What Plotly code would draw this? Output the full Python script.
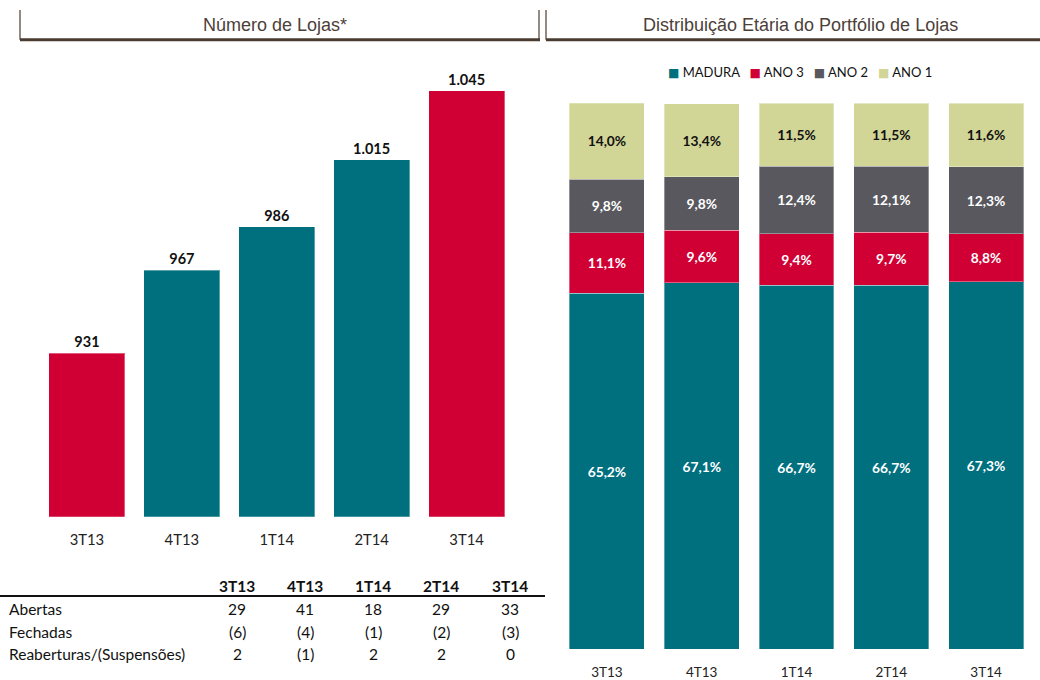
import plotly.graph_objects as go

# ---------------- data ----------------
quarters = ["3T13", "4T13", "1T14", "2T14", "3T14"]
store_count = [931, 967, 986, 1015, 1045]
store_colors = ["#D10034", "#00707F", "#00707F", "#00707F", "#D10034"]

madura = [65.2, 67.1, 66.7, 66.7, 67.3]
ano3 = [11.1, 9.6, 9.4, 9.7, 8.8]
ano2 = [9.8, 9.8, 12.4, 12.1, 12.3]
ano1 = [14.0, 13.4, 11.5, 11.5, 11.6]

table_rows = ["Abertas", "Fechadas", "Reaberturas/(Suspensões)"]
abertas = [29, 41, 18, 29, 33]
fechadas = [-6, -4, -1, -2, -3]
reaberturas = [2, -1, 2, 2, 0]

W, H = 1040, 680
TEAL, RED, GRAY, OLIVE = "#00707F", "#D10034", "#58585E", "#D1D596"
BROWN = "#4A3C31"
CAL = "Lato, 'Open Sans', sans-serif"
ARIAL = "'Liberation Sans', Arial, sans-serif"
NB = "\u00a0"


def px(x):
    return x / W


def py(y):
    return 1 - y / H


def fmt(v):
    return f"({abs(v)})" if v < 0 else f"{v}"


fig = go.Figure()

# left: number of stores
fig.add_trace(go.Bar(
    x=quarters, y=store_count,
    marker=dict(color=store_colors, line=dict(width=1, color="rgba(255,255,255,0.35)")),
    width=0.8, texttemplate="<b>%{y:,.0f}</b>", textposition="outside",
    textfont=dict(family=CAL, size=14.5, color="#111111"),
    cliponaxis=False, showlegend=False, xaxis="x", yaxis="y", hoverinfo="skip"))

# right: stacked distribution
series = [("MADURA", madura, TEAL, "white"), ("ANO 3", ano3, RED, "white"),
          ("ANO 2", ano2, GRAY, "white"), ("ANO 1", ano1, OLIVE, "#111111")]
for name, vals, col, tcol in series:
    fig.add_trace(go.Bar(
        x=quarters, y=vals, name=name, width=0.79, showlegend=False,
        marker=dict(color=col, line=dict(width=1, color="rgba(255,255,255,0.35)")),
        texttemplate="<b>%{y:.1f}%</b>", textposition="inside", insidetextanchor="middle",
        textangle=0, constraintext="none",
        textfont=dict(family=CAL, size=13.8, color=tcol),
        xaxis="x2", yaxis="y2", hoverinfo="skip"))

shapes = []
# header decorations
for x0, x1, right_tick in [(20, 540, True), (546, 1040, False)]:
    shapes.append(dict(type="line", xref="paper", yref="paper", x0=px(x0), x1=px(x1), y0=py(40), y1=py(40),
                       line=dict(color=BROWN, width=3)))
    shapes.append(dict(type="line", xref="paper", yref="paper", x0=px(x0), x1=px(x0), y0=py(10), y1=py(40),
                       line=dict(color=BROWN, width=1.2)))
    if right_tick:
        shapes.append(dict(type="line", xref="paper", yref="paper", x0=px(x1 - 1), x1=px(x1 - 1), y0=py(10),
                           y1=py(40), line=dict(color=BROWN, width=1.2)))
# table rule
shapes.append(dict(type="line", xref="paper", yref="paper", x0=px(0), x1=px(545), y0=py(600.5), y1=py(600.5),
                   line=dict(color="#111111", width=2)))

annotations = [
    dict(text="Número de Lojas*", x=px(275), y=py(25), xref="paper", yref="paper", showarrow=False,
         font=dict(family=ARIAL, size=18, color="#4D4039"), xanchor="center", yanchor="middle"),
    dict(text="Distribuição Etária do Portfólio de Lojas", x=px(800), y=py(25), xref="paper", yref="paper",
         showarrow=False, font=dict(family=ARIAL, size=18, color="#4D4039"), xanchor="center", yanchor="middle"),
]

# legend line (coloured squares + names, built from the series list)
legend_parts = [f"<span style='color:{col};font-family:DejaVu Sans;font-size:12px'>■</span>{NB}{name}"
                for name, _, col, _ in series]
annotations.append(dict(text=(NB * 3).join(legend_parts), x=px(800), y=py(73), xref="paper", yref="paper",
                        showarrow=False, font=dict(family=CAL, size=13, color="#111111"),
                        xanchor="center", yanchor="middle"))

col_x = [237, 305, 373, 441, 510]
TFS = 15.5
for q, cx in zip(quarters, col_x):
    annotations.append(dict(text=f"<b>{q}</b>", x=px(cx), y=py(590), xref="paper", yref="paper", showarrow=False,
                            font=dict(family=CAL, size=TFS, color="#111111"), xanchor="center", yanchor="middle"))
row_y = [614, 636.7, 659]
for label, vals, ry in zip(table_rows, [abertas, fechadas, reaberturas], row_y):
    annotations.append(dict(text=label, x=px(7), y=py(ry), xref="paper", yref="paper", showarrow=False,
                            font=dict(family=CAL, size=TFS, color="#111111"), xanchor="left", yanchor="middle"))
    for v, cx in zip(vals, col_x):
        annotations.append(dict(text=fmt(v), x=px(cx), y=py(ry), xref="paper", yref="paper", showarrow=False,
                                font=dict(family=CAL, size=TFS, color="#111111"), xanchor="center",
                                yanchor="middle"))

fig.update_layout(
    width=W, height=H, margin=dict(l=0, r=0, t=0, b=0),
    paper_bgcolor="white", plot_bgcolor="white",
    barmode="stack", separators=",.", showlegend=False,
    xaxis=dict(domain=[px(39.5), px(514)], showgrid=False, showline=False, zeroline=False, ticks="",
               tickfont=dict(family=CAL, size=14.8, color="#222222"), ticklabelstandoff=13),
    yaxis=dict(domain=[py(520.5), py(60)], range=[860, 1058.6], visible=False),
    xaxis2=dict(domain=[px(559.5), px(1033.5)], anchor="y2", showgrid=False, showline=False, zeroline=False,
                ticks="", tickfont=dict(family=CAL, size=13.5, color="#222222"), ticklabelstandoff=13),
    yaxis2=dict(domain=[py(654), py(104)], range=[0, 100], visible=False, anchor="x2"),
    shapes=shapes, annotations=annotations,
)

fig.write_html("out.html", config={"displayModeBar": False},
               post_script="document.body.style.margin='0';document.body.style.overflow='hidden';")
